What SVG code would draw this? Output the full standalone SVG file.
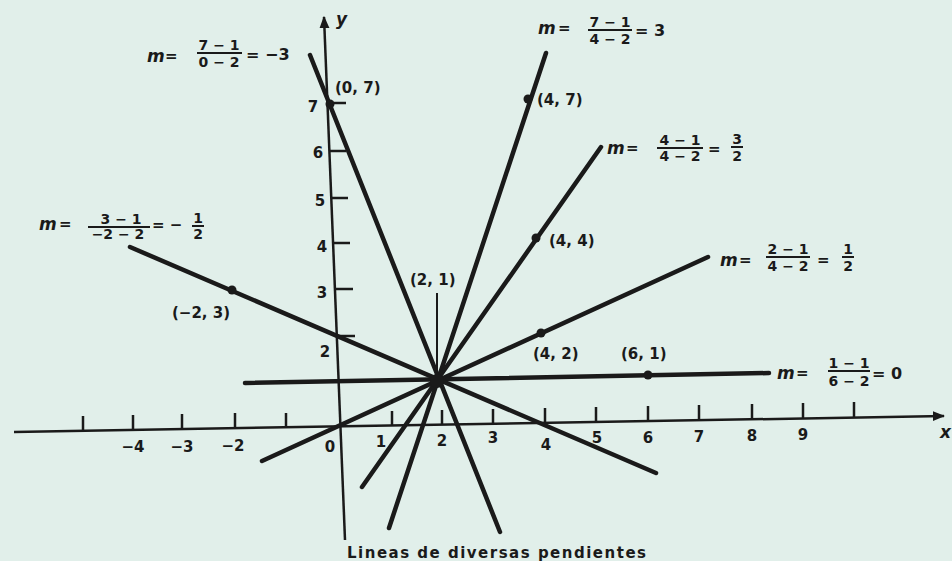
<svg xmlns="http://www.w3.org/2000/svg" width="952" height="561" viewBox="0 0 952 561">
<defs>
<style>
.ink{fill:#1a1a1a}
.t{font-family:"DejaVu Sans","Liberation Sans",sans-serif;font-weight:bold;fill:#1a1a1a}
.lbl{font-size:15px}
.num{font-size:14px;text-anchor:middle}
.m{font-size:17px;font-style:italic}
.eq{font-size:15px}
.ax{font-size:15px;text-anchor:middle}
.bar{stroke:#1a1a1a;stroke-width:2}
.slope{stroke:#1a1a1a;stroke-width:4.5;stroke-linecap:round;fill:none}
.axis{stroke:#1a1a1a;stroke-width:2.5;fill:none}
.tick{stroke:#1a1a1a;stroke-width:2.5}
</style>
<marker id="arr" viewBox="0 0 10 10" refX="9" refY="5" markerWidth="5" markerHeight="5" orient="auto" markerUnits="strokeWidth">
<path d="M0,1 L10,5 L0,9 Z" fill="#1a1a1a"/>
</marker>
</defs>
<rect width="952" height="561" fill="#e1efea"/>

<g id="axes">
<line class="axis" x1="14" y1="432" x2="944" y2="416" marker-end="url(#arr)"/>
<line class="axis" x1="345" y1="540" x2="324" y2="17" marker-end="url(#arr)"/>
<g class="tick">
<line x1="83" y1="431" x2="83" y2="416"/>
<line x1="133" y1="430" x2="133" y2="415"/>
<line x1="182" y1="429" x2="182" y2="414"/>
<line x1="235" y1="428" x2="235" y2="413"/>
<line x1="286" y1="428" x2="286" y2="413"/>
<line x1="392" y1="425" x2="392" y2="411"/>
<line x1="442" y1="424" x2="442" y2="410"/>
<line x1="493" y1="423" x2="493" y2="409"/>
<line x1="545" y1="422" x2="545" y2="408"/>
<line x1="596" y1="422" x2="596" y2="407"/>
<line x1="648" y1="421" x2="648" y2="406"/>
<line x1="699" y1="420" x2="699" y2="405"/>
<line x1="752" y1="419" x2="752" y2="404"/>
<line x1="803" y1="418" x2="803" y2="403"/>
<line x1="854" y1="417" x2="854" y2="402"/>
<line x1="328" y1="103" x2="346" y2="103"/>
<line x1="330" y1="151" x2="346" y2="151"/>
<line x1="331" y1="198" x2="348" y2="198"/>
<line x1="333" y1="243" x2="350" y2="243"/>
<line x1="335" y1="289" x2="353" y2="289"/>
<line x1="337" y1="336" x2="355" y2="336"/>
</g>
<text class="t ax" x="133" y="452">−4</text>
<text class="t ax" x="182" y="452">−3</text>
<text class="t ax" x="233" y="451">−2</text>
<text class="t ax" x="330" y="452">0</text>
<text class="t ax" x="381" y="447">1</text>
<text class="t ax" x="442" y="446">2</text>
<text class="t ax" x="493" y="443">3</text>
<text class="t ax" x="546" y="450">4</text>
<text class="t ax" x="597" y="443">5</text>
<text class="t ax" x="648" y="443">6</text>
<text class="t ax" x="699" y="442">7</text>
<text class="t ax" x="752" y="441">8</text>
<text class="t ax" x="803" y="440">9</text>
<text class="t m" x="940" y="438">x</text>
<text class="t ax" x="313" y="112">7</text>
<text class="t ax" x="318" y="158">6</text>
<text class="t ax" x="320" y="206">5</text>
<text class="t ax" x="322" y="252">4</text>
<text class="t ax" x="322" y="298">3</text>
<text class="t ax" x="325" y="357">2</text>
<text class="t m" x="336" y="25">y</text>
</g>

<g id="connectors">
<line class="slope" x1="310" y1="55" x2="500" y2="532"/>
<line class="slope" x1="546" y1="53" x2="389" y2="528"/>
<line class="slope" x1="601" y1="147" x2="362" y2="487"/>
<line class="slope" x1="708" y1="257" x2="262" y2="461"/>
<line class="slope" x1="245" y1="383" x2="769" y2="373"/>
<line class="slope" x1="130" y1="247" x2="656" y2="473"/>
<line x1="437" y1="293" x2="437" y2="381" stroke="#1a1a1a" stroke-width="2"/>
</g>

<g id="p21">
<circle class="ink" cx="437" cy="381" r="7"/>
<text class="t lbl" x="410" y="285">(2, 1)</text>
</g>
<g id="p07">
<circle class="ink" cx="330" cy="104" r="4.5"/>
<text class="t lbl" x="335" y="93">(0, 7)</text>
</g>
<g id="p47">
<circle class="ink" cx="528" cy="99" r="4.5"/>
<text class="t lbl" x="537" y="105">(4, 7)</text>
</g>
<g id="p44">
<circle class="ink" cx="536" cy="238" r="4.5"/>
<text class="t lbl" x="549" y="246">(4, 4)</text>
</g>
<g id="p42">
<circle class="ink" cx="541" cy="333" r="4.5"/>
<text class="t lbl" x="533" y="359">(4, 2)</text>
</g>
<g id="p61">
<circle class="ink" cx="648" cy="375" r="4.5"/>
<text class="t lbl" x="621" y="359">(6, 1)</text>
</g>
<g id="pm23">
<circle class="ink" cx="232" cy="290" r="4.5"/>
<text class="t lbl" x="172" y="318">(−2, 3)</text>
</g>

<g id="f1">
<text class="t m" x="147" y="62">m</text>
<text class="t eq" x="165" y="61">=</text>
<text class="t num" x="219" y="50">7 − 1</text>
<line class="bar" x1="197" y1="53" x2="242" y2="53"/>
<text class="t num" x="219" y="67">0 − 2</text>
<text class="t eq" x="246" y="60" style="font-size:16px">= −3</text>
</g>
<g id="f2">
<text class="t m" x="538" y="34">m</text>
<text class="t eq" x="558" y="33">=</text>
<text class="t num" x="610" y="27">7 − 1</text>
<line class="bar" x1="588" y1="30" x2="632" y2="30"/>
<text class="t num" x="610" y="44">4 − 2</text>
<text class="t eq" x="635" y="36" style="font-size:16px">= 3</text>
</g>
<g id="f3">
<text class="t m" x="607" y="154">m</text>
<text class="t eq" x="626" y="153">=</text>
<text class="t num" x="680" y="145">4 − 1</text>
<line class="bar" x1="657" y1="148" x2="703" y2="148"/>
<text class="t num" x="680" y="161">4 − 2</text>
<text class="t eq" x="708" y="154">=</text>
<text class="t num" x="737" y="144">3</text>
<line class="bar" x1="731" y1="147" x2="743" y2="147"/>
<text class="t num" x="737" y="161">2</text>
</g>
<g id="f4">
<text class="t m" x="39" y="230">m</text>
<text class="t eq" x="59" y="229">=</text>
<text class="t num" x="121" y="224">3 − 1</text>
<line class="bar" x1="88" y1="227" x2="150" y2="227"/>
<text class="t num" x="118" y="239">−2 − 2</text>
<text class="t eq" x="152" y="230">= −</text>
<text class="t num" x="198" y="223">1</text>
<line class="bar" x1="192" y1="226" x2="204" y2="226"/>
<text class="t num" x="198" y="239">2</text>
</g>
<g id="f5">
<text class="t m" x="720" y="266">m</text>
<text class="t eq" x="739" y="265">=</text>
<text class="t num" x="788" y="254">2 − 1</text>
<line class="bar" x1="766" y1="257" x2="810" y2="257"/>
<text class="t num" x="788" y="271">4 − 2</text>
<text class="t eq" x="817" y="265">=</text>
<text class="t num" x="848" y="254">1</text>
<line class="bar" x1="842" y1="257" x2="854" y2="257"/>
<text class="t num" x="848" y="271">2</text>
</g>
<g id="f6">
<text class="t m" x="777" y="379">m</text>
<text class="t eq" x="796" y="378">=</text>
<text class="t num" x="849" y="368">1 − 1</text>
<line class="bar" x1="828" y1="371" x2="870" y2="371"/>
<text class="t num" x="849" y="386">6 − 2</text>
<text class="t eq" x="872" y="379" style="font-size:16px">= 0</text>
</g>

<g id="caption">
<text class="t" x="347" y="558" style="font-size:15px;letter-spacing:1.5px">Lineas de diversas pendientes</text>
</g>
</svg>
